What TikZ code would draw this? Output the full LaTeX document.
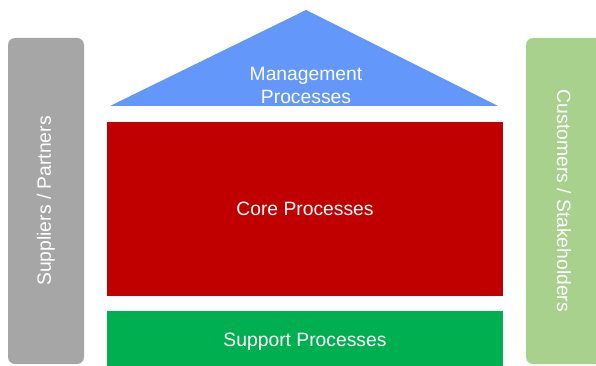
\documentclass[tikz,border=0pt]{standalone}
\usepackage{fontspec}
\setmainfont{Liberation Sans}
\definecolor{pillarGray}{RGB}{166,166,166}
\definecolor{pillarGreen}{RGB}{169,209,142}
\definecolor{mgmtBlue}{RGB}{100,151,250}
\definecolor{coreRed}{RGB}{192,0,0}
\definecolor{supportGreen}{RGB}{0,176,80}

\begin{document}
\begin{tikzpicture}[x=1pt, y=-1pt, font=\fontsize{19.3}{23}\selectfont,
    block/.style={rectangle, inner sep=0pt, text=white, minimum width=396pt},
    pillar/.style={rectangle, rounded corners=7pt, inner sep=0pt, text=white,
      minimum width=326pt, minimum height=76pt}]
        \clip (0,0) rectangle (596,366);
        % Seitenpfeiler
        \node[pillar, fill=pillarGray, rotate=90] (suppliers) at (46,201) {Suppliers / Partners};
        \node[pillar, fill=pillarGreen, rotate=-90] (customers) at (564,201) {Customers / Stakeholders};
        % Dach
        \fill[mgmtBlue] (110,106) -- (306,10) -- (498,106) -- cycle;
        \node[align=center, text=white] (mgmt) at (306,85) {Management\\Processes};
        % Bloecke
        \node[block, fill=coreRed, minimum height=174pt] (core) at (305,209) {Core Processes};
        \node[block, fill=supportGreen, minimum height=61pt] (support) at (305,341.5) {Support Processes};
    \end{tikzpicture}
\end{document}
